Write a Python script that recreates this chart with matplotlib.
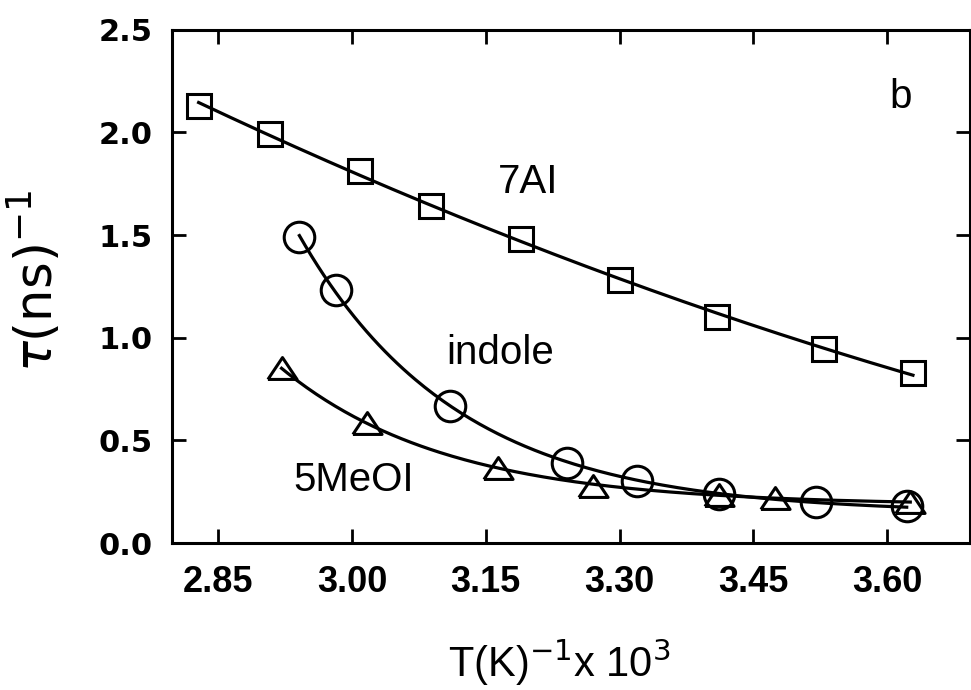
import numpy as np
import matplotlib
matplotlib.use("Agg")
import matplotlib.pyplot as plt

# 7AI (squares)
x_7ai = [2.828, 2.908, 3.009, 3.089, 3.190, 3.300, 3.409, 3.529, 3.629]
y_7ai = [2.13, 1.99, 1.81, 1.64, 1.48, 1.28, 1.10, 0.945, 0.83]

# indole (circles)
x_ind = [2.941, 2.982, 3.110, 3.241, 3.320, 3.412, 3.520, 3.622]
y_ind = [1.49, 1.23, 0.668, 0.39, 0.30, 0.24, 0.20, 0.18]

# 5MeOI (triangles)
x_meo = [2.921, 3.017, 3.164, 3.270, 3.412, 3.474, 3.626]
y_meo = [0.85, 0.585, 0.365, 0.28, 0.235, 0.22, 0.20]

xticks = [2.85, 3.00, 3.15, 3.30, 3.45, 3.60]
yticks = [0.0, 0.5, 1.0, 1.5, 2.0, 2.5]


def exp_fit(x, y):
    # y = a*exp(-b*(x-x0)) + c, b by grid search, a and c by least squares
    x = np.asarray(x)
    y = np.asarray(y)
    best = None
    for b in np.linspace(0.5, 30, 600):
        A = np.column_stack([np.exp(-b * (x - x[0])), np.ones_like(x)])
        coef = np.linalg.lstsq(A, y, rcond=None)[0]
        err = np.sum((A @ coef - y) ** 2)
        if best is None or err < best[0]:
            best = (err, b, coef)
    _, b, (a, c) = best
    xs = np.linspace(x[0], x[-1], 200)
    return xs, a * np.exp(-b * (xs - x[0])) + c


fig = plt.figure(figsize=(9.71, 6.90), dpi=100)
ax = fig.add_axes([0.177, 0.213, 0.822, 0.744])

# fitted curves
p = np.polyfit(x_7ai, y_7ai, 2)
xs = np.linspace(x_7ai[0], x_7ai[-1], 200)
ax.plot(xs, np.polyval(p, xs), color="black", lw=2.3)
xs, ys = exp_fit(x_ind, y_ind)
ax.plot(xs, ys, color="black", lw=2.3)
xs, ys = exp_fit(x_meo, y_meo)
ax.plot(xs, ys, color="black", lw=2.3)

tri = [(-1, -0.75), (1, -0.75), (0, 0.75), (-1, -0.75)]
mk = dict(linestyle="none", markerfacecolor="none", markeredgecolor="black",
          markeredgewidth=2.2)
ax.plot(x_7ai, y_7ai, marker="s", markersize=17, **mk)
ax.plot(x_ind, y_ind, marker="o", markersize=22, **mk)
ax.plot(x_meo, y_meo, marker=tri, markersize=21, **mk)

ax.set_xlim(2.798, 3.693)
ax.set_ylim(0.0, 2.5)
ax.set_xticks(xticks)
ax.set_yticks(yticks)
ax.set_xticklabels(["%.2f" % v for v in xticks], family="Liberation Sans",
                   fontsize=26, fontweight="bold")
ax.set_yticklabels(["%.1f" % v for v in yticks], family="DejaVu Sans",
                   fontsize=22, fontweight="bold")
ax.tick_params(direction="in", length=10, width=2.0, top=True, right=True)
ax.tick_params(axis="x", pad=16)
ax.tick_params(axis="y", pad=14)
for s in ax.spines.values():
    s.set_linewidth(2.2)

ax.set_ylabel(r"$\tau$(ns)$^{-1}$", fontsize=37, family="DejaVu Sans")
ax.yaxis.set_label_coords(-0.135, 0.511)
ax.set_xlabel(r"T(K)$^{-1}$x 10$^3$", fontsize=30, family="Liberation Sans")
ax.xaxis.set_label_coords(0.485, -0.183)

ax.text(3.615, 2.12, "b", fontsize=29, family="Liberation Sans", ha="center")
ax.text(3.197, 1.706, "7AI", fontsize=29, family="Liberation Sans", ha="center")
ax.text(3.166, 0.872, "indole", fontsize=29, family="Liberation Sans", ha="center")
ax.text(3.002, 0.253, "5MeOI", fontsize=29, family="Liberation Sans", ha="center")

fig.savefig("out.png", dpi=100)
